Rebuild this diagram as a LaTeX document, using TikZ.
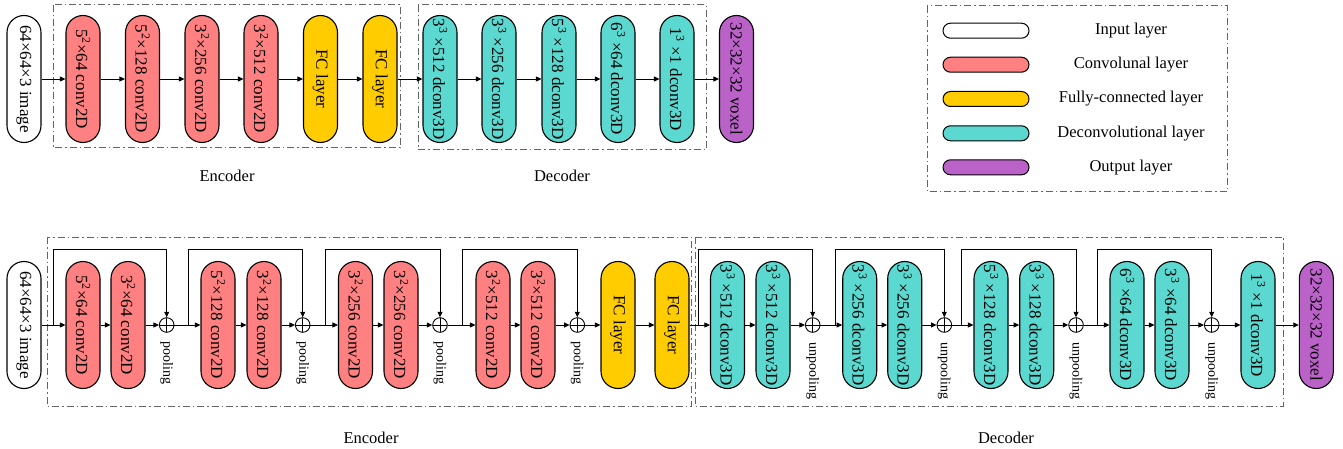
\documentclass[tikz,border=0pt]{standalone}
\usepackage{fontspec}
\setmainfont{Liberation Serif}
\usetikzlibrary{arrows.meta,calc}
\definecolor{convred}{RGB}{255,128,128}
\definecolor{fcyellow}{RGB}{255,204,0}
\definecolor{dcteal}{RGB}{91,216,207}
\definecolor{outpurple}{RGB}{187,98,201}
\definecolor{framegray}{RGB}{100,100,100}
\newcommand{\sq}[1]{\textsuperscript{#1}}
\begin{document}
\begin{tikzpicture}[x=1pt,y=-1pt,
  layer/.style={draw=black,line width=1.1pt,rounded corners=17pt,
    minimum width=127pt,minimum height=34pt,inner sep=0pt,rotate=-90,
    font=\fontsize{17}{20}\selectfont},
  inlayer/.style={layer,fill=white},
  convlayer/.style={layer,fill=convred},
  fclayer/.style={layer,fill=fcyellow},
  dclayer/.style={layer,fill=dcteal},
  outlayer/.style={layer,fill=outpurple},
  pill/.style={draw=black,line width=1pt,rounded corners=7.5pt,
    minimum width=86pt,minimum height=15pt,inner sep=0pt},
  arr/.style={-{Triangle[length=5.5pt,width=5pt]},line width=0.8pt},
  frame/.style={draw=framegray,line width=1pt,
    dash pattern=on 7pt off 3pt on 1.5pt off 3pt},
  sumnode/.style={circle,draw=black,line width=0.9pt,minimum size=14.6pt,
    inner sep=0pt,fill=white,
    path picture={\draw[line width=0.9pt]
      (path picture bounding box.north) -- (path picture bounding box.south)
      (path picture bounding box.west) -- (path picture bounding box.east);}},
  plabel/.style={rotate=-90,anchor=west,inner sep=0pt,
    font=\fontsize{14}{16}\selectfont},
  title/.style={font=\fontsize{16.5}{19}\selectfont},
]
\useasboundingbox (0,0) rectangle (1343,449);

% ---------------- plain encoder-decoder ----------------
\draw[frame] (53,5) rectangle (400,148);
\draw[frame] (418,5) rectangle (706,150);

\node[inlayer]   (ti)  at (24,79)    {64×64×3 image};
\node[convlayer] (t1)  at (83,79)    {5\sq{2}×64 conv2D};
\node[convlayer] (t2)  at (142.5,79) {5\sq{2}×128 conv2D};
\node[convlayer] (t3)  at (202,79)   {3\sq{2}×256 conv2D};
\node[convlayer] (t4)  at (261,79)   {3\sq{2}×512 conv2D};
\node[fclayer]   (t5)  at (320.5,79) {FC layer};
\node[fclayer]   (t6)  at (380,79)   {FC layer};
\node[dclayer]   (td1) at (440,79)   {3\sq{3} ×512 dconv3D};
\node[dclayer]   (td2) at (499,79)   {3\sq{3} ×256 dconv3D};
\node[dclayer]   (td3) at (559,79)   {5\sq{3} ×128 dconv3D};
\node[dclayer]   (td4) at (618,79)   {6\sq{3} ×64 dconv3D};
\node[dclayer]   (td5) at (677,79)   {1\sq{3} ×1 dconv3D};
\node[outlayer]  (to)  at (736.5,79) {32×32×32 voxel};

\foreach \a/\b in {ti/t1,t1/t2,t2/t3,t3/t4,t4/t5,t5/t6,t6/td1,
                   td1/td2,td2/td3,td3/td4,td4/td5,td5/to}
  \draw[arr] (\a) -- (\b);

\node[title] (tenc) at (227,176) {Encoder};
\node[title] (tdec) at (562,176) {Decoder};

% ---------------- legend ----------------
\draw[frame] (927,6) rectangle (1227,192);
\node[pill,fill=white]      (k1) at (986,30.7)  {};
\node[pill,fill=convred]    (k2) at (986,64.7)  {};
\node[pill,fill=fcyellow]   (k3) at (986,99)    {};
\node[pill,fill=dcteal]     (k4) at (986,133.3) {};
\node[pill,fill=outpurple]  (k5) at (986,167.3) {};
\node[title] (kt1) at (1131,30.7)  {Input layer};
\node[title] (kt2) at (1131,64.7)  {Convolunal layer};
\node[title] (kt3) at (1131,99)    {Fully-connected layer};
\node[title] (kt4) at (1131,133.3) {Deconvolutional layer};
\node[title] (kt5) at (1131,167.3) {Output layer};

% ---------------- residual encoder-decoder ----------------
\draw[frame] (47,237) rectangle (691.7,406);
\draw[frame] (695,237) rectangle (1283.3,406);

\node[inlayer]   (bi)  at (24,325)     {64×64×3 image};
\node[convlayer] (b1)  at (83,325)     {5\sq{2}×64 conv2D};
\node[convlayer] (b2)  at (128,325)    {3\sq{2}×64 conv2D};
\node[sumnode]   (p1)  at (166.7,325)  {};
\node[convlayer] (b3)  at (218,325)    {5\sq{2}×128 conv2D};
\node[convlayer] (b4)  at (264,325)    {3\sq{2}×128 conv2D};
\node[sumnode]   (p2)  at (302.7,325)  {};
\node[convlayer] (b5)  at (355.5,325)  {3\sq{2}×256 conv2D};
\node[convlayer] (b6)  at (401,325)    {3\sq{2}×256 conv2D};
\node[sumnode]   (p3)  at (440,325)    {};
\node[convlayer] (b7)  at (493,325)    {3\sq{2}×512 conv2D};
\node[convlayer] (b8)  at (538,325)    {3\sq{2}×512 conv2D};
\node[sumnode]   (p4)  at (577.3,325)  {};
\node[fclayer]   (bf1) at (618,325)    {FC layer};
\node[fclayer]   (bf2) at (672,325)    {FC layer};
\node[dclayer]   (d1)  at (727.5,325)  {3\sq{3} ×512 dconv3D};
\node[dclayer]   (d2)  at (773,325)    {3\sq{3} ×512 dconv3D};
\node[sumnode]   (p5)  at (812.7,325)  {};
\node[dclayer]   (d3)  at (859.7,325)  {3\sq{3} ×256 dconv3D};
\node[dclayer]   (d4)  at (904.7,325)  {3\sq{3} ×256 dconv3D};
\node[sumnode]   (p6)  at (944.3,325)  {};
\node[dclayer]   (d5)  at (991,325)    {5\sq{3} ×128 dconv3D};
\node[dclayer]   (d6)  at (1036.7,325) {3\sq{3} ×128 dconv3D};
\node[sumnode]   (p7)  at (1076,325)   {};
\node[dclayer]   (d7)  at (1127,325)   {6\sq{3} ×64 dconv3D};
\node[dclayer]   (d8)  at (1172,325)   {3\sq{3} ×64 dconv3D};
\node[sumnode]   (p8)  at (1211.7,325) {};
\node[dclayer]   (d9)  at (1258,325)   {1\sq{3} ×1 dconv3D};
\node[outlayer]  (bo)  at (1316.3,325) {32×32×32 voxel};

\foreach \a/\b in {bi/b1,b1/b2,b2/p1,p1/b3,b3/b4,b4/p2,p2/b5,b5/b6,b6/p3,
                   p3/b7,b7/b8,b8/p4,p4/bf1,bf1/bf2,bf2/d1,d1/d2,d2/p5,
                   p5/d3,d3/d4,d4/p6,p6/d5,d5/d6,d6/p7,p7/d7,d7/d8,d8/p8,
                   p8/d9,d9/bo}
  \draw[arr] (\a) -- (\b);

% shortcut branches
\coordinate (s1) at (53,325);
\coordinate (s2) at (188.3,325);
\coordinate (s3) at (325,325);
\coordinate (s4) at (462.7,325);
\coordinate (s5) at (698.3,325);
\coordinate (s6) at (835.3,325);
\coordinate (s7) at (961.7,325);
\coordinate (s8) at (1097.7,325);
\foreach \s/\p in {s1/p1,s2/p2,s3/p3,s4/p4,s5/p5,s6/p6,s7/p7,s8/p8}
  \draw[arr] (\s) -- ++(0,-76) -| (\p);

\foreach \p in {p1,p2,p3,p4}
  \node[plabel] (\p l) at ($(\p)+(0,16.5)$) {pooling};
\foreach \p in {p5,p6,p7,p8}
  \node[plabel] (\p l) at ($(\p)+(0,17.5)$) {unpooling};

\node[title] (benc) at (371,438)  {Encoder};
\node[title] (bdec) at (1006,438) {Decoder};
\end{tikzpicture}
\end{document}
